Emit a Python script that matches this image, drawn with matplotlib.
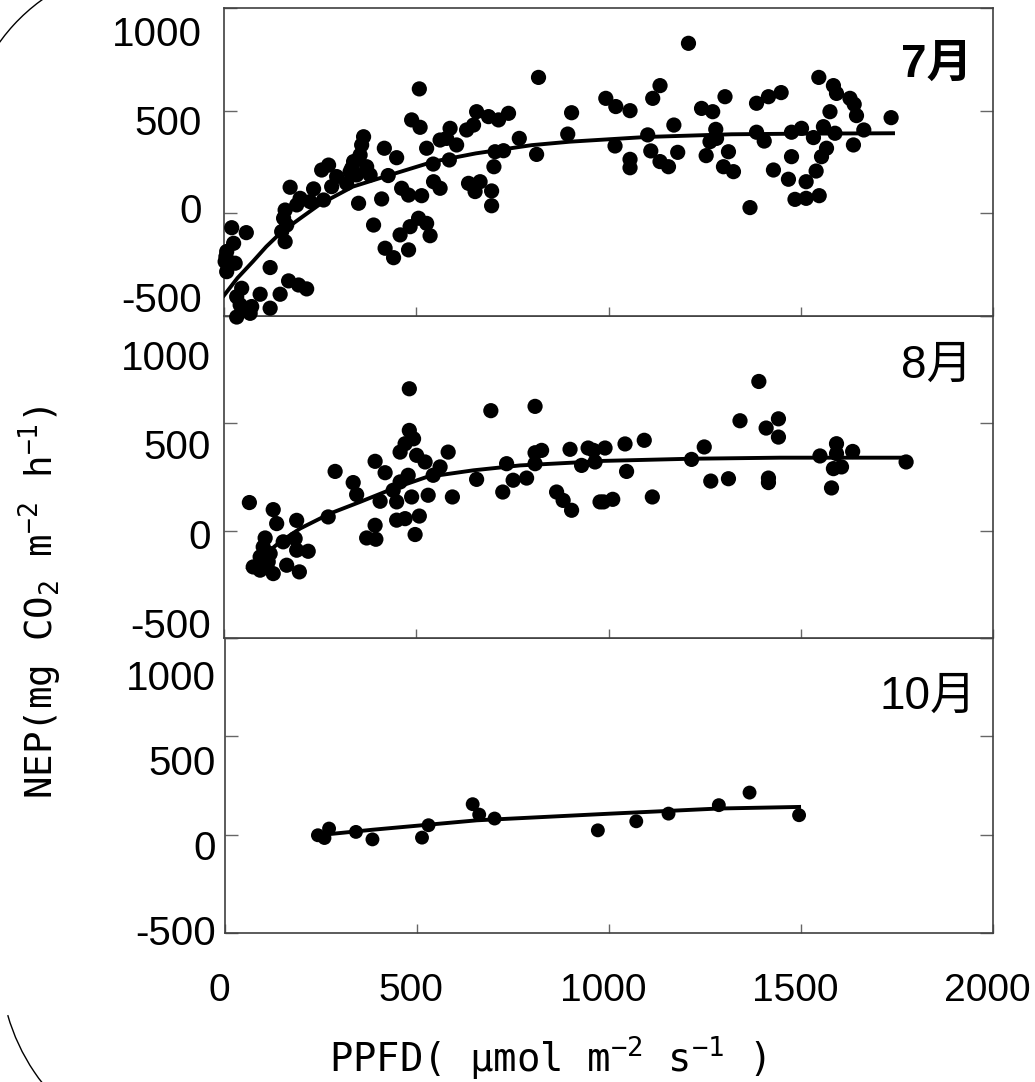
import matplotlib
matplotlib.use("Agg")
import matplotlib.pyplot as plt
from matplotlib.patches import Arc
from matplotlib.transforms import ScaledTranslation

plt.rcParams['font.family'] = ['Liberation Sans', 'Noto Sans CJK JP', 'DejaVu Sans']
plt.rcParams['mathtext.fontset'] = 'custom'
plt.rcParams['mathtext.rm'] = 'DejaVu Sans Mono'
plt.rcParams['mathtext.it'] = 'DejaVu Sans Mono'

W, H = 1035, 1082

# ---- July (7月) ----
jul_x = [508, 488, 510, 527, 417, 449, 427, 544, 562, 588,
         579, 605, 631, 649, 657, 586, 545, 562, 636, 653,
         462, 480, 514, 410, 350, 389, 506, 527, 484, 458,
         536, 419, 441, 480, 363, 358, 354, 337, 332, 371,
         380, 345, 319, 328, 272, 254, 280, 293, 233, 259,
         224, 198, 189, 172, 159, 155, 163, 150, 159, 20,
         58, 25, 7, 3, 29, 7, 120, 168, 194, 215,
         146, 46, 33, 94, 42, 72, 120, 33, 68, 51,
         5,
         1208, 818, 688, 714, 740, 768, 705, 727, 702, 813,
         666, 696, 696, 904, 894, 993, 1019, 1056, 1017, 1056,
         1056, 1102, 1110, 1134, 1156, 1115, 1134, 1170, 1180, 1242,
         1271, 1303, 1279, 1264, 1281, 1254, 1299, 1312,
         1385, 1416, 1449, 1547, 1585, 1593, 1628, 1639, 1645, 1576,
         1735, 1664, 1385, 1405, 1476, 1502, 1533, 1559, 1589, 1637,
         1567, 1554, 1325, 1429, 1476, 1468, 1540, 1514, 1485, 1514,
         1548, 1368]
jul_y = [606, 455, 419, 317, 317, 271, 184, 240, 357, 414,
         365, 333, 406, 430, 495, 260, 154, 122, 146, 106,
         122, 89, 86, 70, 49, -57, -24, -49, -65, -105,
         -109, -170, -216, -178, 373, 333, 284, 252, 219, 227,
         187, 187, 146, 203, 235, 211, 130, 179, 119, 65,
         57, 73, 41, 127, 16, -24, -57, -89, -138, -70,
         -94, -146, -186, -235, -243, -284, -264, -329, -349, -368,
         -394, -365, -406, -394, -446, -454, -462, -505, -487, -470,
         -211,
         828, 662, 471, 455, 487, 365, 300, 305, 227, 287,
         154, 109, 37, 490, 386, 560, 520, 500, 328, 263,
         222, 382, 304, 252, 227, 560, 622, 430, 297, 511,
         495, 568, 409, 349, 365, 281, 227, 300,
         536, 568, 588, 662, 622, 584, 560, 531, 476, 495,
         466, 406, 395, 352, 395, 414, 369, 422, 390, 333,
         317, 276, 203, 211, 276, 166, 206, 154, 68, 73,
         86, 28]
jul_fit_x = [0, 35, 75, 110, 150, 200, 250, 335, 420, 545, 655, 800, 900, 1100, 1320, 1500, 1740]
jul_fit_y = [-400, -315, -235, -162, -90, -22, 45, 130, 180, 252, 292, 332, 349, 372, 385, 388, 390]

# ---- August (8月) ----
aug_x = [482, 694, 809, 482, 493, 471, 458, 583, 393, 419,
         289, 336, 345, 501, 523, 562, 544, 479, 458, 440,
         406, 449, 488, 531, 594, 657, 735, 752, 787, 725,
         809, 826, 809, 900, 947, 930, 865, 882, 904, 978,
         393, 371, 395, 449, 471, 508, 497, 66, 128, 137,
         189, 271, 107, 102, 154, 185, 189, 219, 94, 115,
         76, 94, 128, 163, 196, 120,
         1391, 1342, 1442, 1410, 1442, 1593, 1635, 1550, 1585, 1606,
         1580, 1774, 1593, 1416, 1416, 1216, 1249, 1266, 1312, 1093,
         1043, 991, 961, 965, 1047, 987, 1011, 1114]
aug_y = [661, 559, 579, 467, 428, 405, 366, 366, 323, 270,
         276, 224, 168, 351, 320, 297, 258, 258, 227, 188,
         137, 134, 157, 165, 157, 239, 312, 235, 245, 180,
         363, 374, 312, 379, 385, 304, 180, 141, 95, 134,
         25, -34, -40, 49, 56, 68, -18, 131, 98, 33,
         48, 64, -34, -76, -52, -37, -91, -96, -122, -145,
         -169, -184, -200, -161, -192, -107,
         695, 512, 521, 478, 436, 405, 369, 348, 289, 297,
         199, 320, 359, 245, 224, 332, 390, 231, 242, 421,
         404, 385, 374, 320, 276, 134, 146, 157]
aug_fit_x = [63, 146, 198, 276, 354, 440, 527, 648, 770, 908, 986, 1212, 1446, 1775]
aug_fit_y = [-176, -52, 10, 80, 134, 196, 250, 281, 304, 317, 325, 335, 340, 340]

# ---- October (10月) ----
oct_x = [242, 271, 259, 341, 384, 513, 530, 645, 662, 702, 971, 1071, 1155, 1286, 1366, 1495]
oct_y = [-3, 31, -17, 14, -24, -15, 48, 155, 102, 82, 22, 68, 107, 150, 214, 99]
oct_fit_x = [242, 384, 656, 1005, 1286, 1495]
oct_fit_y = [-3, 25, 73, 107, 133, 141]

months = ['7月', '8月', '10月']
y_ticks = [-500, 0, 500, 1000]
y_ticklabels = ['-500', '0', '500', '1000']
x_ticks = [0, 500, 1000, 1500, 2000]
x_ticklabels = ['0', '500', '1000', '1500', '2000']


def px_box(l, t, r, b):
    return [l / W, 1 - b / H, (r - l) / W, (b - t) / H]


fig = plt.figure(figsize=(W / 100, H / 100), dpi=100)

# panel boxes in pixels, label-axis limits, label pad
boxes = [(224, 8, 993, 316), (224, 316, 993, 638), (225, 638, 993, 933)]
lab_lims = [(-607, 1130), (-584, 1218), (-518, 1218)]
lab_pads = [15.8, 9.4, 6.8]
series = [(jul_x, jul_y, jul_fit_x, jul_fit_y, 120),
          (aug_x, aug_y, aug_fit_x, aug_fit_y, 120),
          (oct_x, oct_y, oct_fit_x, oct_fit_y, 100)]
month_pos = [(0.973, 0.815), (0.973, 0.845), (0.979, 0.80)]
month_weight = ['bold', 'normal', 'normal']

for i in range(3):
    ax = fig.add_axes(px_box(*boxes[i]))
    ax.set_zorder(5 - i)
    xs, ys, fx, fy, ms = series[i]
    ax.scatter(xs, ys, s=ms, c='black', edgecolors='none', clip_on=False, zorder=3)
    ax.plot(fx, fy, color='black', lw=2.8, zorder=4)
    ax.set_xlim(0, 2000)
    ax.set_ylim(-500, 1000)
    ax.set_xticks(x_ticks)
    ax.set_yticks(y_ticks)
    ax.tick_params(axis='y', direction='in', left=True, right=True, length=9.5,
                   width=1, color='#666666', labelleft=False)
    ax.tick_params(axis='x', direction='in', bottom=True, top=False, length=6.5,
                   width=1, color='#666666', labelbottom=(i == 2), pad=29, labelsize=28)
    if i == 2:
        ax.set_xticklabels(x_ticklabels)
        shift = ScaledTranslation(-6 / 100, 0, fig.dpi_scale_trans)
        for t in ax.get_xticklabels():
            t.set_transform(t.get_transform() + shift)
    for s in ax.spines.values():
        s.set_color('#404040')
        s.set_linewidth(1.2)
    ax.text(month_pos[i][0], month_pos[i][1], months[i], transform=ax.transAxes,
            ha='right', va='center', fontsize=33, fontweight=month_weight[i])

    # tick labels sit on their own (transparent) axis, as in the original
    lab = fig.add_axes(px_box(*boxes[i]))
    lab.set_zorder(0)
    lab.patch.set_visible(False)
    for s in lab.spines.values():
        s.set_visible(False)
    lab.set_xticks([])
    lab.set_ylim(*lab_lims[i])
    lab.set_yticks(y_ticks)
    lab.set_yticklabels(y_ticklabels, fontsize=29)
    lab.tick_params(axis='y', length=0, pad=lab_pads[i])

fig.text(40 / W, 1 - 602 / H, r'NEP(mg CO$_2$ m$^{-2}$ h$^{-1}$)', rotation=90,
         ha='center', va='center', fontsize=27, family='DejaVu Sans Mono')
fig.text(547 / W, 1 - 1058 / H, r'PPFD( μmol m$^{-2}$ s$^{-1}$ )',
         ha='center', va='center', fontsize=28, family='DejaVu Sans Mono')

# outline arcs at the left edge of the scanned figure
deco = fig.add_axes([0, 0, 1, 1])
deco.set_zorder(-1)
deco.set_xlim(0, W)
deco.set_ylim(0, H)
deco.axis('off')
deco.add_patch(Arc((150, 932), 370, 370, theta1=115, theta2=160, color='black', lw=1))
deco.add_patch(Arc((200, 122), 400, 400, theta1=196, theta2=232, color='black', lw=1))

fig.savefig('out.png', dpi=100)
